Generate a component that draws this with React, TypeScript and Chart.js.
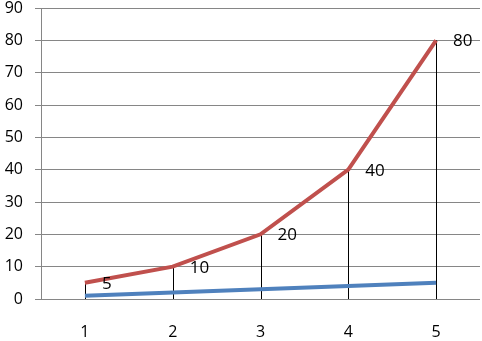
import React, { useEffect, useRef } from "react";
import { Chart, registerables } from "chart.js";

Chart.register(...registerables);

const categories = ["1", "2", "3", "4", "5"];
const blueValues = [1, 2, 3, 4, 5];
const redValues = [5, 10, 20, 40, 80];
const yMin = 0;
const yMax = 90;
const yStep = 10;

const FONT = "'Open Sans', sans-serif";

const dropLinesAndLabels = {
  id: "dropLinesAndLabels",
  beforeDatasetsDraw(chart: any) {
    const ctx = chart.ctx;
    const meta = chart.getDatasetMeta(1);
    const y0 = chart.scales.y.getPixelForValue(0);
    ctx.save();
    ctx.strokeStyle = "#000000";
    ctx.lineWidth = 1;
    meta.data.forEach((pt: any) => {
      const x = Math.round(pt.x) + 0.5;
      ctx.beginPath();
      ctx.moveTo(x, pt.y);
      ctx.lineTo(x, y0);
      ctx.stroke();
    });
    ctx.restore();
  },
  afterDatasetsDraw(chart: any) {
    const ctx = chart.ctx;
    const meta = chart.getDatasetMeta(1);
    ctx.save();
    ctx.fillStyle = "#000000";
    ctx.font = `17px ${FONT}`;
    ctx.textAlign = "left";
    ctx.textBaseline = "middle";
    meta.data.forEach((pt: any, i: number) => {
      ctx.fillText(String(redValues[i]), pt.x + 17, pt.y + 1);
    });
    ctx.restore();
  },
};

export default function App() {
  const ref = useRef<HTMLCanvasElement>(null);
  useEffect(() => {
    document.body.style.margin = "0";
    const chart = new Chart(ref.current!, {
      type: "line",
      data: {
        labels: categories,
        datasets: [
          {
            data: blueValues,
            borderColor: "#4F81BD",
            borderWidth: 4,
            pointRadius: 0,
            tension: 0,
          },
          {
            data: redValues,
            borderColor: "#C0504D",
            borderWidth: 4,
            pointRadius: 0,
            tension: 0,
          },
        ],
      },
      options: {
        animation: false,
        responsive: false,
        maintainAspectRatio: false,
        layout: { padding: { top: 8, right: 2, left: 0, bottom: 0 } },
        plugins: { legend: { display: false }, tooltip: { enabled: false } },
        scales: {
          x: {
            offset: true,
            grid: { display: false },
            border: { display: false },
            ticks: { color: "#000", font: { size: 16, family: FONT }, padding: 16 },
            afterFit: (s: any) => {
              s.height = 42;
              s.paddingLeft = 0;
              s.paddingRight = 0;
            },
          },
          y: {
            min: yMin,
            max: yMax,
            ticks: { stepSize: yStep, color: "#000", font: { size: 16, family: FONT }, padding: 12 },
            grid: { color: "#868686", tickLength: 6, lineWidth: 1 },
            border: { color: "#868686" },
            afterFit: (s: any) => {
              s.width = 41;
              s.paddingTop = 0;
              s.paddingBottom = 0;
            },
          },
        },
      },
      plugins: [dropLinesAndLabels],
    });
    return () => chart.destroy();
  }, []);
  return (
    <div style={{ width: 482, height: 341 }}>
      <canvas ref={ref} width={482} height={341} />
    </div>
  );
}
